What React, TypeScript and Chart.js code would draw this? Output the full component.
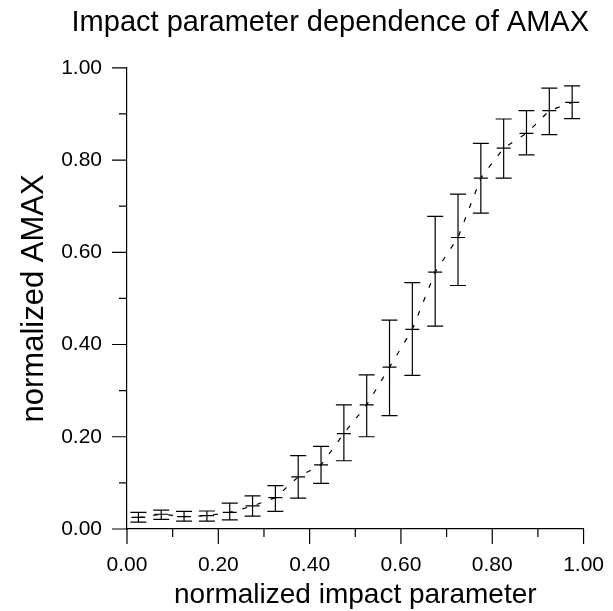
import React, { useEffect, useRef } from "react";
import { Chart, registerables } from "chart.js";

Chart.register(...registerables);

const impactParameter = [0.025, 0.075, 0.125, 0.175, 0.225, 0.275, 0.325, 0.375, 0.425, 0.475, 0.525, 0.575, 0.625, 0.675, 0.725, 0.775, 0.825, 0.875, 0.925, 0.975];
const amax = [0.025, 0.032, 0.027, 0.029, 0.036, 0.050, 0.068, 0.113, 0.139, 0.207, 0.269, 0.351, 0.433, 0.557, 0.632, 0.761, 0.826, 0.858, 0.907, 0.925];
const amaxLow = [0.015, 0.021, 0.017, 0.017, 0.020, 0.028, 0.038, 0.067, 0.099, 0.148, 0.200, 0.246, 0.333, 0.440, 0.528, 0.685, 0.761, 0.811, 0.855, 0.890];
const amaxHigh = [0.036, 0.041, 0.038, 0.039, 0.056, 0.072, 0.094, 0.159, 0.179, 0.269, 0.334, 0.453, 0.534, 0.678, 0.726, 0.836, 0.889, 0.907, 0.956, 0.961];
const majorTicks = [0, 0.2, 0.4, 0.6, 0.8, 1.0];
const minorTicks = [0.1, 0.3, 0.5, 0.7, 0.9];

const FONT = "'Liberation Sans', Arial, Helvetica, sans-serif";

const errorBarPlugin = {
  id: "errorBars",
  afterDatasetsDraw(chart: any) {
    const { ctx, scales } = chart;
    const xs = scales.x;
    const ys = scales.y;
    ctx.save();
    ctx.strokeStyle = "#000";
    ctx.lineWidth = 1.2;
    const cap = 8;
    for (let i = 0; i < impactParameter.length; i++) {
      const x = xs.getPixelForValue(impactParameter[i]);
      const yl = ys.getPixelForValue(amaxLow[i]);
      const yh = ys.getPixelForValue(amaxHigh[i]);
      ctx.beginPath();
      ctx.moveTo(x, yl);
      ctx.lineTo(x, yh);
      ctx.moveTo(x - cap, yl);
      ctx.lineTo(x + cap, yl);
      ctx.moveTo(x - cap, yh);
      ctx.lineTo(x + cap, yh);
      ctx.stroke();
    }
    ctx.restore();
  },
};

const tickMarkPlugin = {
  id: "tickMarks",
  afterDraw(chart: any) {
    const { ctx, scales, chartArea } = chart;
    const xs = scales.x;
    const ys = scales.y;
    ctx.save();
    ctx.strokeStyle = "#000";
    ctx.lineWidth = 1.2;
    ctx.beginPath();
    for (const v of majorTicks) {
      const x = xs.getPixelForValue(v);
      ctx.moveTo(x, chartArea.bottom);
      ctx.lineTo(x, chartArea.bottom + 15);
      const y = ys.getPixelForValue(v);
      ctx.moveTo(chartArea.left, y);
      ctx.lineTo(chartArea.left - 15, y);
    }
    for (const v of minorTicks) {
      const x = xs.getPixelForValue(v);
      ctx.moveTo(x, chartArea.bottom);
      ctx.lineTo(x, chartArea.bottom + 8);
      const y = ys.getPixelForValue(v);
      ctx.moveTo(chartArea.left, y);
      ctx.lineTo(chartArea.left - 8, y);
    }
    ctx.stroke();
    ctx.restore();
  },
};

export default function App() {
  const ref = useRef<HTMLCanvasElement | null>(null);

  useEffect(() => {
    if (!ref.current) return;
    const chart = new Chart(ref.current, {
      type: "line",
      data: {
        datasets: [
          {
            label: "AMAX",
            data: impactParameter.map((x, i) => ({ x, y: amax[i] })),
            borderColor: "#000",
            borderWidth: 1.2,
            borderDash: [5, 10],
            tension: 0,
            pointStyle: "line",
            pointRadius: 7,
            pointBorderWidth: 1.2,
            pointBorderColor: "#000",
            pointBackgroundColor: "#000",
            fill: false,
          },
        ],
      },
      options: {
        responsive: false,
        animation: false,
        layout: { padding: { left: 0, right: 24, top: 0, bottom: 0 } },
        plugins: {
          legend: { display: false },
          tooltip: { enabled: false },
          title: {
            display: true,
            text: "Impact parameter dependence of AMAX",
            align: "end",
            color: "#000",
            font: { family: FONT, size: 29, weight: "normal" },
            padding: { top: 6, bottom: 27 },
          },
        },
        scales: {
          x: {
            type: "linear",
            min: 0,
            max: 1,
            afterFit: (s: any) => {
              s.height = 82;
            },
            border: { display: true, color: "#000", width: 1.2 },
            grid: { drawOnChartArea: false, drawTicks: true, tickLength: 15, tickColor: "rgba(0,0,0,0)" },
            ticks: {
              stepSize: 0.2,
              padding: 9,
              color: "#000",
              maxRotation: 0,
              font: { family: FONT, size: 21 },
              callback: (v: any) => Number(v).toFixed(2),
            },
            title: {
              display: true,
              text: "normalized impact parameter",
              color: "#000",
              font: { family: FONT, size: 28, lineHeight: 1.0 },
              padding: { top: 0, bottom: 2 },
            },
          },
          y: {
            type: "linear",
            min: 0,
            max: 1,
            afterFit: (s: any) => {
              s.width = 127;
            },
            border: { display: true, color: "#000", width: 1.2 },
            grid: { drawOnChartArea: false, drawTicks: true, tickLength: 15, tickColor: "rgba(0,0,0,0)" },
            ticks: {
              stepSize: 0.2,
              padding: 10,
              color: "#000",
              font: { family: FONT, size: 21 },
              callback: (v: any) => Number(v).toFixed(2),
            },
            title: {
              display: true,
              text: "normalized AMAX",
              color: "#000",
              font: { family: FONT, size: 31 },
              padding: { top: 16, bottom: 0 },
            },
          },
        },
      },
      plugins: [errorBarPlugin, tickMarkPlugin],
    });
    return () => chart.destroy();
  }, []);

  return (
    <div style={{ position: "fixed", left: 0, top: 0, width: 613, height: 611, background: "#fff" }}>
      <canvas ref={ref} width={613} height={611} style={{ display: "block" }} />
    </div>
  );
}
